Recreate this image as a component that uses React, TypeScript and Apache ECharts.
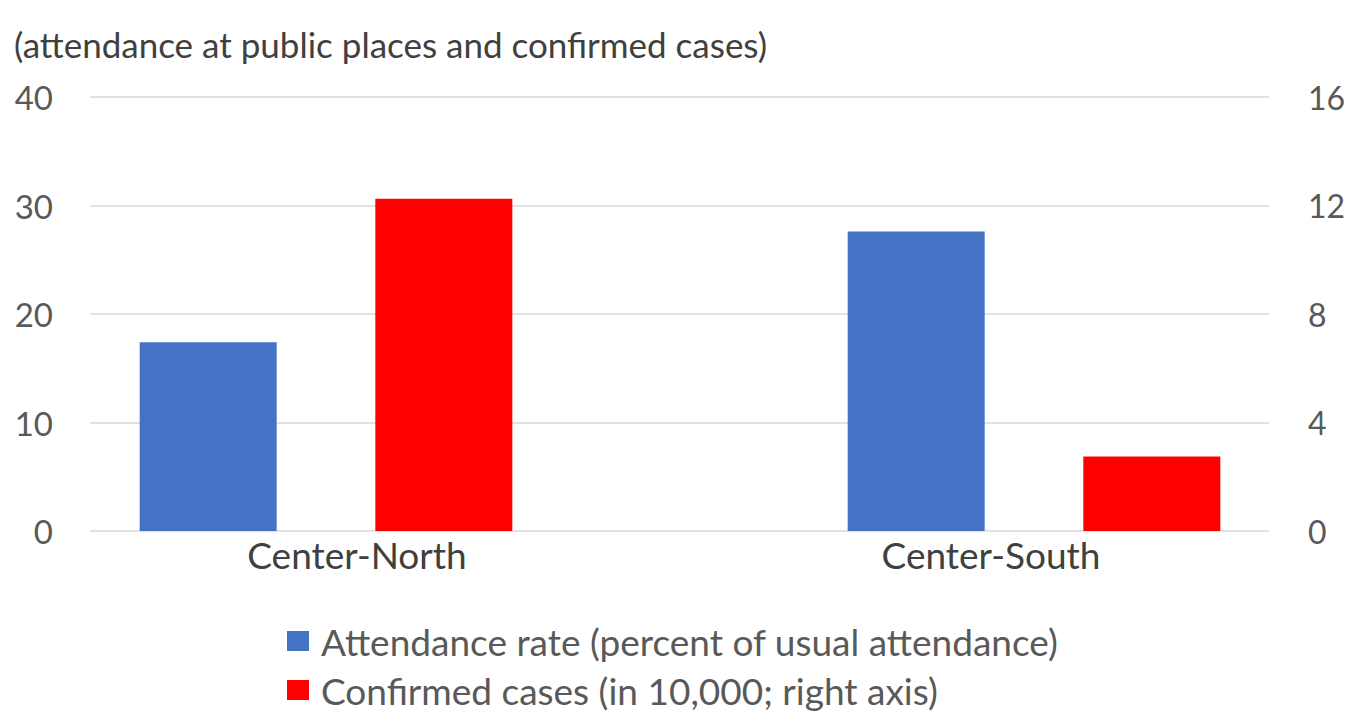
import React, { useEffect, useRef } from "react";
import * as echarts from "echarts";

const titleText = "(attendance at public places and confirmed cases)";
const categories = ["Center-North", "Center-South"];
const attendanceName = "Attendance rate (percent of usual attendance)";
const casesName = "Confirmed cases (in 10,000; right axis)";
const attendance = [17.4, 27.6];
const cases = [12.25, 2.75];
const leftAxis = { min: 0, max: 40, interval: 10 };
const rightAxis = { min: 0, max: 16, interval: 4 };

const FONT = "Lato, 'Open Sans', sans-serif";
const GRAY = "#595959";

export default function App() {
  const ref = useRef<HTMLDivElement>(null);
  useEffect(() => {
    if (!ref.current) return;
    const chart = echarts.init(ref.current, undefined, { renderer: "svg" });
    const top = 97;
    const bottom = 184;
    chart.setOption({
      animation: false,
      backgroundColor: "#ffffff",
      textStyle: { fontFamily: FONT },
      title: {
        text: titleText,
        left: 14,
        top: 26,
        padding: 0,
        textStyle: { fontFamily: FONT, fontSize: 35, fontWeight: "normal", color: "#404040" },
      },
      legend: {
        orient: "vertical",
        left: 287,
        top: 622,
        height: 120,
        width: 1000,
        padding: 0,
        itemWidth: 22,
        itemHeight: 20,
        itemGap: 11,
        icon: "rect",
        data: [attendanceName, casesName],
        textStyle: {
          fontFamily: FONT,
          fontSize: 37,
          color: GRAY,
          lineHeight: 38,
          padding: [0, 0, 0, 7],
        },
      },
      grid: [
        { left: 90, right: 78, top, bottom, outerBoundsMode: "none" },
        { left: -28, width: 1416, top, bottom, outerBoundsMode: "none" },
        { left: 40, width: 1268, top, bottom, outerBoundsMode: "none" },
      ],
      xAxis: [
        { gridIndex: 0, type: "category", data: categories, show: false },
        { gridIndex: 1, type: "category", data: categories, show: false },
        {
          gridIndex: 2,
          type: "category",
          data: categories,
          axisLine: { show: false },
          axisTick: { show: false },
          axisLabel: { margin: 5, fontFamily: FONT, fontSize: 37, color: "#404040" },
        },
      ],
      yAxis: [
        {
          gridIndex: 0,
          type: "value",
          position: "left",
          ...leftAxis,
          axisLine: { show: false },
          axisTick: { show: false },
          axisLabel: { margin: 37, fontFamily: FONT, fontSize: 33, color: GRAY },
          splitLine: { lineStyle: { color: "#d9d9d9", width: 1.5 } },
        },
        {
          gridIndex: 0,
          type: "value",
          position: "right",
          ...rightAxis,
          axisLine: { show: false },
          axisTick: { show: false },
          axisLabel: { margin: 39, fontFamily: FONT, fontSize: 32, color: GRAY },
          splitLine: { show: false },
        },
        { gridIndex: 1, type: "value", ...leftAxis, show: false, splitLine: { show: false } },
        { gridIndex: 1, type: "value", ...rightAxis, show: false, splitLine: { show: false } },
        { gridIndex: 2, type: "value", ...leftAxis, show: false, splitLine: { show: false } },
      ],
      series: [
        {
          name: attendanceName,
          type: "bar",
          xAxisIndex: 1,
          yAxisIndex: 2,
          data: attendance,
          barWidth: 137,
          barGap: "72%",
          itemStyle: { color: "#4472C4" },
        },
        {
          name: casesName,
          type: "bar",
          xAxisIndex: 1,
          yAxisIndex: 3,
          data: cases,
          barWidth: 137,
          barGap: "72%",
          itemStyle: { color: "#FF0000" },
        },
      ],
    });
    return () => chart.dispose();
  }, []);
  return (
    <div
      ref={ref}
      style={{ position: "fixed", left: 0, top: 0, width: 1347, height: 715, background: "#fff" }}
    />
  );
}
